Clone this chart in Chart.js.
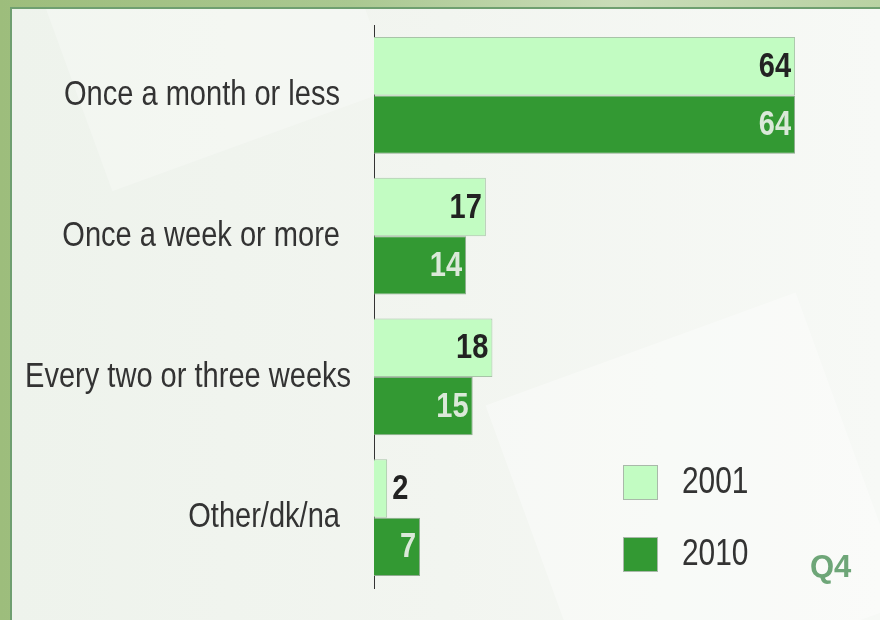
<!DOCTYPE html>
<html>
<head>
<meta charset="utf-8">
<script src="https://cdn.jsdelivr.net/npm/chart.js@4.4.1/dist/chart.umd.min.js"></script>
<style>
html, body { margin:0; padding:0; }
body { width:880px; height:620px; overflow:hidden; position:relative;
  background: linear-gradient(90deg, #9dbd7c 0%, #aac891 40%, #c9dcb8 70%, #b9d2a3 100%); }
#panel { position:absolute; left:10px; top:7px; width:870px; height:613px;
  border-left:2px solid #6f9f70; border-top:2px solid #6f9f70; box-sizing:border-box;
  background: linear-gradient(90deg, #eef3ec 0%, #f2f5f0 50%, #f7f9f6 100%); overflow:hidden; }
.shape { position:absolute; background:rgba(255,255,255,0.35); transform:rotate(-20deg); }
#wrap { position:absolute; left:0; top:0; width:880px; height:620px; }
#q4 { position:absolute; left:810px; top:549px; font:bold 31px "Liberation Sans", Arial, sans-serif; color:#6ea678; }
</style>
</head>
<body>
<div id="panel">
  <div class="shape" style="left:520px; top:330px; width:330px; height:330px;"></div>
  <div class="shape" style="left:40px; top:-160px; width:300px; height:300px; background:rgba(255,255,255,0.25)"></div>
</div>
<div id="wrap"><canvas id="chart" width="880" height="620"></canvas></div>
<div id="q4">Q4</div>
<script>
var categories = ['Once a month or less', 'Once a week or more', 'Every two or three weeks', 'Other/dk/na'];
var values2001 = [64, 17, 18, 2];
var values2010 = [64, 14, 15, 7];
var seriesNames = ['2001', '2010'];

var lightGreen = '#c2fcc2';
var darkGreen = '#339933';
var sans = '"Liberation Sans", Arial, sans-serif';
var squeeze = 0.83; // the original text is horizontally condensed

// text drawn with a horizontal squeeze, x is the anchor point
function narrowText(ctx, txt, x, y, align) {
  ctx.save();
  ctx.translate(x, y);
  ctx.scale(squeeze, 1);
  ctx.textAlign = align;
  ctx.fillText(txt, 0, 0);
  ctx.restore();
}

// category names on the left of the axis, right aligned but kept inside the label box
var catLabels = {
  id: 'catLabels',
  afterDraw: function(chart) {
    var ctx = chart.ctx, sc = chart.scales.y;
    ctx.save();
    ctx.font = '35px ' + sans;
    ctx.fillStyle = '#333333';
    ctx.textBaseline = 'middle';
    chart.data.labels.forEach(function(lab, i) {
      var w = ctx.measureText(lab).width * squeeze;
      var right = Math.max(340, 25 + w);
      narrowText(ctx, lab, right, sc.getPixelForTick(i), 'right');
    });
    ctx.restore();
  }
};

// value labels at the end of each bar
var barLabels = {
  id: 'barLabels',
  afterDatasetsDraw: function(chart) {
    var ctx = chart.ctx;
    ctx.save();
    ctx.font = 'bold 35px ' + sans;
    ctx.textBaseline = 'middle';
    chart.data.datasets.forEach(function(ds, i) {
      var meta = chart.getDatasetMeta(i);
      meta.data.forEach(function(bar, j) {
        var txt = String(ds.data[j]);
        var w = ctx.measureText(txt).width * squeeze;
        if (w + 8 < bar.x - bar.base) {
          ctx.fillStyle = i === 0 ? '#222222' : '#dbe9d9';
          narrowText(ctx, txt, bar.x - 4, bar.y + 1, 'right');
        } else {
          ctx.fillStyle = '#222222';
          narrowText(ctx, txt, bar.x + 5, bar.y + 1, 'left');
        }
      });
    });
    ctx.restore();
  }
};

// legend at the bottom right
var sideLegend = {
  id: 'sideLegend',
  afterDraw: function(chart) {
    var ctx = chart.ctx;
    ctx.save();
    chart.data.datasets.forEach(function(ds, i) {
      var y = 465 + i * 72;
      ctx.fillStyle = ds.backgroundColor;
      ctx.fillRect(623, y, 35, 35);
      ctx.strokeStyle = '#a9b9a9';
      ctx.lineWidth = 1;
      ctx.strokeRect(623.5, y + 0.5, 34, 34);
      ctx.fillStyle = '#333333';
      ctx.font = '36px ' + sans;
      ctx.textBaseline = 'middle';
      narrowText(ctx, ds.label, 682, y + 18, 'left');
    });
    ctx.restore();
  }
};

new Chart(document.getElementById('chart'), {
  type: 'bar',
  data: {
    labels: categories,
    datasets: [
      { label: seriesNames[0], data: values2001, backgroundColor: lightGreen, borderColor: '#a8c4a8', borderWidth: 1 },
      { label: seriesNames[1], data: values2010, backgroundColor: darkGreen, borderColor: '#8fab8f', borderWidth: 1 }
    ]
  },
  options: {
    indexAxis: 'y',
    responsive: false,
    animation: false,
    layout: { padding: { left: 0, right: 6, top: 25, bottom: 32 } },
    datasets: { bar: { categoryPercentage: 0.83, barPercentage: 1.0 } },
    plugins: { legend: { display: false }, tooltip: { enabled: false } },
    scales: {
      x: { display: false, min: 0, max: 76 },
      y: {
        grid: { display: false, drawTicks: false },
        border: { display: true, color: '#333333', width: 1 },
        ticks: { display: false },
        afterFit: function(scale) { scale.width = 374; }
      }
    }
  },
  plugins: [barLabels, catLabels, sideLegend]
});
</script>
</body>
</html>
